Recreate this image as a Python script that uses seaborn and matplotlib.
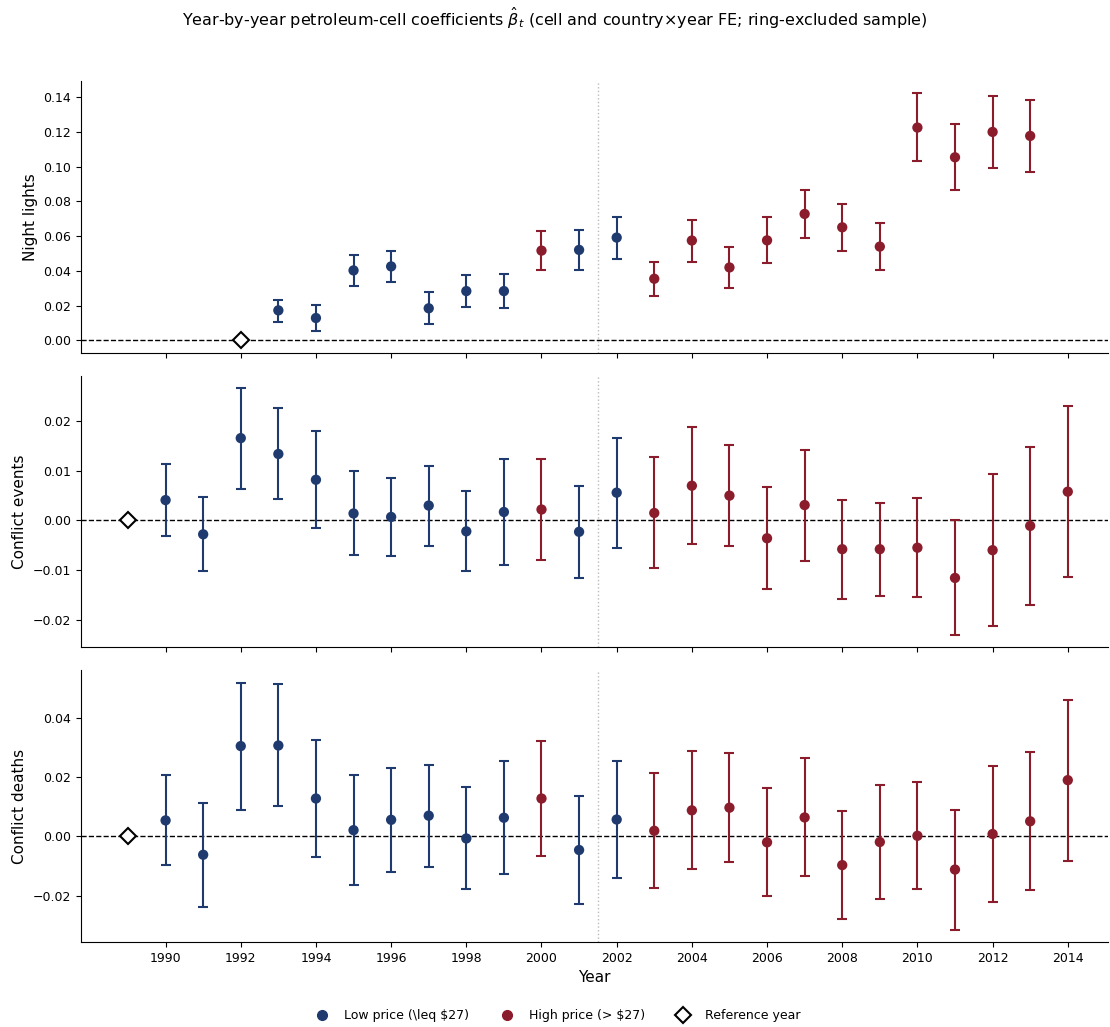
import numpy as np
import pandas as pd
import matplotlib
matplotlib.use("Agg")
import matplotlib.pyplot as plt
from matplotlib.lines import Line2D
import seaborn as sns

# ---------------- data ----------------
nl_years = list(range(1993, 2014))
nl_coef = [0.0172, 0.0128, 0.0402, 0.0425, 0.0184, 0.0283, 0.0283, 0.0516, 0.0520, 0.0591,
           0.0354, 0.0574, 0.0419, 0.0575, 0.0727, 0.0650, 0.0539, 0.1224, 0.1053, 0.1199, 0.1176]
nl_lo = [0.0107, 0.0053, 0.0314, 0.0335, 0.0092, 0.0189, 0.0187, 0.0402, 0.0406, 0.0470,
         0.0252, 0.0453, 0.0298, 0.0442, 0.0589, 0.0515, 0.0402, 0.1033, 0.0864, 0.0993, 0.0966]
nl_hi = [0.0231, 0.0202, 0.0489, 0.0515, 0.0277, 0.0375, 0.0379, 0.0631, 0.0633, 0.0711,
         0.0453, 0.0694, 0.0539, 0.0711, 0.0866, 0.0786, 0.0677, 0.1421, 0.1243, 0.1408, 0.1385]
nl_ref_year = 1992

cf_years = list(range(1990, 2015))
ev_coef = [0.0041, -0.0028, 0.0166, 0.0134, 0.0082, 0.0014, 0.0007, 0.0030, -0.0022, 0.0017,
           0.0022, -0.0023, 0.0056, 0.0015, 0.0070, 0.0050, -0.0036, 0.0031, -0.0058, -0.0058,
           -0.0055, -0.0116, -0.0060, -0.0011, 0.0058]
ev_lo = [-0.0032, -0.0102, 0.0064, 0.0043, -0.0015, -0.0070, -0.0072, -0.0051, -0.0103, -0.0090,
         -0.0080, -0.0117, -0.0056, -0.0095, -0.0048, -0.0052, -0.0139, -0.0081, -0.0159, -0.0152,
         -0.0154, -0.0231, -0.0213, -0.0170, -0.0114]
ev_hi = [0.0114, 0.0047, 0.0267, 0.0226, 0.0180, 0.0099, 0.0086, 0.0109, 0.0059, 0.0124,
         0.0124, 0.0070, 0.0167, 0.0127, 0.0189, 0.0152, 0.0068, 0.0143, 0.0042, 0.0036,
         0.0045, 0.0000, 0.0094, 0.0149, 0.0230]
dt_coef = [0.0054, -0.0062, 0.0305, 0.0307, 0.0128, 0.0021, 0.0056, 0.0070, -0.0007, 0.0063,
           0.0128, -0.0046, 0.0057, 0.0019, 0.0088, 0.0097, -0.0020, 0.0064, -0.0097, -0.0019,
           0.0002, -0.0112, 0.0008, 0.0051, 0.0190]
dt_lo = [-0.0098, -0.0237, 0.0090, 0.0101, -0.0069, -0.0164, -0.0119, -0.0102, -0.0179, -0.0128,
         -0.0066, -0.0228, -0.0141, -0.0175, -0.0111, -0.0088, -0.0202, -0.0135, -0.0279, -0.0211,
         -0.0179, -0.0315, -0.0223, -0.0182, -0.0083]
dt_hi = [0.0206, 0.0114, 0.0519, 0.0514, 0.0325, 0.0206, 0.0232, 0.0241, 0.0168, 0.0255,
         0.0322, 0.0135, 0.0256, 0.0214, 0.0287, 0.0282, 0.0162, 0.0264, 0.0087, 0.0175,
         0.0185, 0.0089, 0.0239, 0.0284, 0.0462]
cf_ref_year = 1989

high_price_years = [2000, 2003, 2004, 2005, 2006, 2007, 2008, 2009, 2010, 2011, 2012, 2013, 2014]

panel_labels = ["Night lights", "Conflict events", "Conflict deaths"]
regime_labels = ["Low price (\\leq $27)", "High price (> $27)"]
ref_label = "Reference year"
title = r"Year-by-year petroleum-cell coefficients $\hat{\beta}_t$ (cell and country$\times$year FE; ring-excluded sample)"

# ---------------- style ----------------
sns.set_style("ticks")
plt.rcParams["font.family"] = ["DejaVu Sans"]
plt.rcParams["mathtext.fontset"] = "dejavusans"
plt.rcParams.update({
    "text.color": "black", "axes.labelcolor": "black", "axes.edgecolor": "black",
    "xtick.color": "black", "ytick.color": "black",
    "xtick.major.size": 3.5, "ytick.major.size": 3.5,
    "xtick.major.width": 0.8, "ytick.major.width": 0.8, "axes.linewidth": 0.8,
})

BLUE = "#1f3a6f"
RED = "#8b1c2c"
palette = {regime_labels[0]: BLUE, regime_labels[1]: RED}

fig, axes = plt.subplots(3, 1, figsize=(11.1, 10.27), dpi=100, sharex=True)
fig.subplots_adjust(left=81 / 1110, right=1108 / 1110, top=1 - 81 / 1027,
                    bottom=1 - 942 / 1027, hspace=0.085)

panels = [
    (nl_years, nl_coef, nl_lo, nl_hi, nl_ref_year),
    (cf_years, ev_coef, ev_lo, ev_hi, cf_ref_year),
    (cf_years, dt_coef, dt_lo, dt_hi, cf_ref_year),
]

for ax, (yrs, coef, lo, hi, ref), lab in zip(axes, panels, panel_labels):
    df = pd.DataFrame({"year": yrs, "coef": coef, "lo": lo, "hi": hi})
    df["regime"] = np.where(df["year"].isin(high_price_years), regime_labels[1], regime_labels[0])
    ax.axhline(0, color="black", ls="--", lw=1.0, zorder=1)
    ax.axvline(2001.5, color="#bbbbbb", ls=":", lw=1.0, zorder=1)
    for reg in regime_labels:
        sub = df[df["regime"] == reg]
        ax.errorbar(sub["year"], sub["coef"],
                    yerr=[sub["coef"] - sub["lo"], sub["hi"] - sub["coef"]],
                    fmt="none", ecolor=palette[reg], elinewidth=1.5, capsize=3.5,
                    capthick=1.5, zorder=2)
    sns.scatterplot(data=df, x="year", y="coef", hue="regime", palette=palette,
                    hue_order=regime_labels, s=55, edgecolor="none", ax=ax,
                    legend=False, zorder=3)
    ax.plot([ref], [0], marker="D", ms=8, mfc="white", mec="black", mew=1.5,
            ls="none", zorder=4)
    ax.set_ylabel(lab, fontsize=11)
    ax.set_xlabel("")
    ax.tick_params(labelsize=9)
    ymin = min(min(lo), 0)
    ymax = max(max(hi), 0)
    pad = 0.05 * (ymax - ymin)
    ax.set_ylim(ymin - pad, ymax + pad)
    sns.despine(ax=ax)

axes[0].set_yticks(np.arange(0, 0.141, 0.02))
axes[1].set_yticks(np.arange(-0.02, 0.021, 0.01))
axes[2].set_yticks(np.arange(-0.02, 0.041, 0.02))
axes[2].set_xticks(list(range(1990, 2015, 2)))
axes[2].set_xlim(1987.75, 2015.07)
axes[2].set_xlabel("Year", fontsize=11)

fig.suptitle(title, fontsize=11.5, y=1 - 18 / 1027, va="center")

handles = [
    Line2D([], [], marker="o", ls="none", color=BLUE, ms=7, label=regime_labels[0]),
    Line2D([], [], marker="o", ls="none", color=RED, ms=7, label=regime_labels[1]),
    Line2D([], [], marker="D", ls="none", mfc="white", mec="black", mew=1.5, ms=8, label=ref_label),
]
fig.legend(handles=handles, loc="center", bbox_to_anchor=(0.5, 1 - 1016 / 1027),
           ncol=3, frameon=False, fontsize=9, columnspacing=2.0)

fig.savefig("out.png", dpi=100)
